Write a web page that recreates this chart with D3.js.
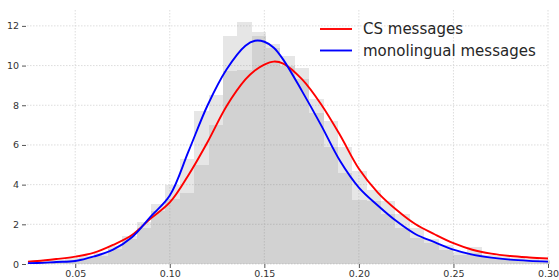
<!DOCTYPE html>
<html>
<head>
<meta charset="utf-8">
<script src="https://cdn.jsdelivr.net/npm/d3@7"></script>
<style>
  body { margin: 0; background: #fff; }
  svg { display: block; font-family: "DejaVu Sans", sans-serif; }
</style>
</head>
<body>
<svg id="chart" width="559" height="280"></svg>
<script>
// histogram bins (shared edges)
const binStart = 0.0293;
const binWidth = 0.0076;
const monoHist = [0.08, 0.12, 0.2, 0.3, 0.4, 0.75, 1.25, 2.1, 3.0, 4.0, 5.3, 7.7, 8.5, 11.5, 12.2, 11.7, 11.1, 10.0,
                  9.3, 7.6, 5.9, 4.6, 3.25, 3.2, 2.5, 1.8, 1.3, 1.05, 0.7, 0.45, 0.54, 0.35, 0.28, 0.22, 0.18, 0.15];
const csHist = [0.15, 0.2, 0.3, 0.42, 0.55, 0.9, 1.4, 1.8, 2.65, 3.3, 3.6, 5.0, 7.0, 9.75, 9.8, 11.5, 10.9, 10.5,
                9.9, 8.3, 7.2, 5.9, 4.7, 3.75, 3.2, 2.5, 1.8, 1.25, 0.96, 0.62, 0.87, 0.45, 0.38, 0.3, 0.25, 0.2];

// density curves
const curveX = [0.025, 0.03, 0.04, 0.05, 0.06, 0.07, 0.08, 0.09, 0.10, 0.11, 0.12, 0.13, 0.14, 0.145, 0.15, 0.155,
                0.16, 0.17, 0.18, 0.19, 0.20, 0.21, 0.22, 0.23, 0.24, 0.25, 0.26, 0.27, 0.28, 0.29, 0.30];
const csCurve = [0.12, 0.15, 0.25, 0.37, 0.57, 0.96, 1.46, 2.3, 3.1, 4.5, 6.15, 7.95, 9.3, 9.75, 10.05, 10.2,
                 10.1, 9.3, 8.05, 6.5, 4.8, 3.6, 2.72, 2.0, 1.5, 1.05, 0.72, 0.52, 0.4, 0.33, 0.28];
const monoCurve = [0.04, 0.05, 0.1, 0.15, 0.38, 0.72, 1.35, 2.4, 3.45, 5.7, 8.0, 9.8, 11.0, 11.25, 11.2, 10.9,
                   10.3, 8.7, 7.0, 5.2, 3.85, 2.95, 2.15, 1.5, 1.1, 0.72, 0.47, 0.32, 0.22, 0.16, 0.12];

const xTicks = [0.05, 0.10, 0.15, 0.20, 0.25, 0.30];
const yTicks = [0, 2, 4, 6, 8, 10, 12];
const legendLabels = ["CS messages", "monolingual messages"];

const svg = d3.select("#chart");
const pLeft = 27, pRight = 548, pTop = 10, pBottom = 264;

const x = d3.scaleLinear().domain([0.0245, 0.30]).range([pLeft, pRight]);
const y = d3.scaleLinear().domain([0, 12.8]).range([pBottom, pTop]);

svg.append("clipPath").attr("id", "plotclip")
  .append("rect").attr("x", pLeft).attr("y", 0).attr("width", pRight - pLeft + 2).attr("height", pBottom);

// grid
const grid = svg.append("g").attr("stroke", "#d4d4d4").attr("stroke-width", 0.8).attr("stroke-dasharray", "1.5,1.5");
grid.selectAll(".gx").data(xTicks).join("line")
  .attr("x1", d => x(d)).attr("x2", d => x(d)).attr("y1", pTop).attr("y2", pBottom);
grid.selectAll(".gy").data(yTicks).join("line")
  .attr("x1", pLeft).attr("x2", pRight).attr("y1", d => y(d)).attr("y2", d => y(d));

// histograms
const plot = svg.append("g").attr("clip-path", "url(#plotclip)");
[monoHist, csHist].forEach(h => {
  plot.append("g").selectAll("rect").data(h).join("rect")
    .attr("x", (d, i) => x(binStart + i * binWidth))
    .attr("width", (d, i) => x(binStart + (i + 1) * binWidth) - x(binStart + i * binWidth))
    .attr("y", d => y(d))
    .attr("height", d => y(0) - y(d))
    .attr("fill", "#808080")
    .attr("fill-opacity", 0.2)
    .attr("shape-rendering", "crispEdges");
});

// curves
const line = d3.line().x(d => x(d[0])).y(d => y(d[1])).curve(d3.curveCatmullRom);
plot.append("path").datum(curveX.map((v, i) => [v, csCurve[i]]))
  .attr("d", line).attr("fill", "none").attr("stroke", "#ff0000").attr("stroke-width", 1.9);
plot.append("path").datum(curveX.map((v, i) => [v, monoCurve[i]]))
  .attr("d", line).attr("fill", "none").attr("stroke", "#0000ff").attr("stroke-width", 1.9);

// axes
const xAxis = svg.append("g").attr("transform", `translate(0,${pBottom})`)
  .call(d3.axisBottom(x).tickValues(xTicks).tickFormat(d3.format(".2f")).tickSize(4).tickPadding(2));
const yAxis = svg.append("g").attr("transform", `translate(${pLeft - 1},0)`)
  .call(d3.axisLeft(y).tickValues(yTicks).tickFormat(d3.format("d")).tickSize(4).tickPadding(3));
[xAxis, yAxis].forEach(a => {
  a.select(".domain").remove();
  a.selectAll(".tick line").attr("stroke", "#555");
  a.selectAll(".tick text").attr("fill", "#333").attr("font-size", 9.5).attr("font-family", "DejaVu Sans");
});

// legend
const legendColors = ["#ff0000", "#0000ff"];
const lg = svg.append("g");
legendLabels.forEach((lab, i) => {
  const ly = 29 + i * 21.5;
  lg.append("line").attr("x1", 320).attr("x2", 352).attr("y1", ly).attr("y2", ly)
    .attr("stroke", legendColors[i]).attr("stroke-width", 1.9);
  lg.append("text").attr("x", 363).attr("y", ly + 5).attr("font-size", 15)
    .attr("fill", "#262626").text(lab);
});
</script>
</body>
</html>
